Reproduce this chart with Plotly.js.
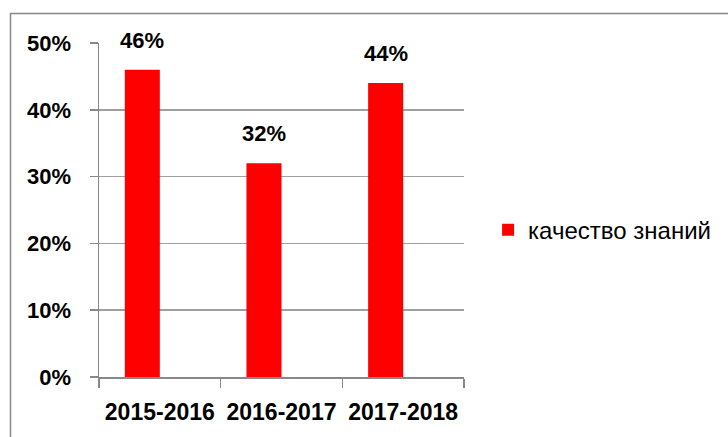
<!DOCTYPE html>
<html>
<head>
<meta charset="utf-8">
<script src="https://cdn.plot.ly/plotly-3.0.1.min.js"></script>
<style>html,body{margin:0;padding:0;background:#fff;}#chart{width:728px;height:437px;}</style>
</head>
<body>
<div id="chart"></div>
<script>
const categories = ["2015-2016", "2016-2017", "2017-2018"];
const values = [0.46, 0.32, 0.44];
const labels = ["46%", "32%", "44%"];
const seriesName = "качество знаний";
const yTicks = [0, 0.1, 0.2, 0.3, 0.4, 0.5];
const yTickText = ["0%", "10%", "20%", "30%", "40%", "50%"];

const barWidth = 0.288;
const trace = {
  type: "bar",
  x: categories,
  y: values,
  name: seriesName,
  width: barWidth,
  offset: -barWidth,
  marker: {color: "#FF0000", line: {width: 0}},
  hoverinfo: "none"
};

const annotations = values.map((v, i) => ({
  x: i - barWidth / 2,
  y: v,
  xref: "x",
  yref: "y",
  text: labels[i],
  showarrow: false,
  yanchor: "bottom",
  yshift: 15,
  font: {family: "Liberation Sans, Arial, sans-serif", size: 22, color: "#000", weight: "bold"}
}));

const layout = {
  width: 728,
  height: 437,
  margin: {l: 99, r: 264, t: 43, b: 60},
  paper_bgcolor: "#fff",
  plot_bgcolor: "#fff",
  showlegend: true,
  legend: {
    x: 1.066, y: 0.44, xanchor: "left", yanchor: "middle",
    font: {family: "Liberation Sans, Arial, sans-serif", size: 24, color: "#000"},
    bgcolor: "rgba(0,0,0,0)"
  },
  xaxis: {
    type: "category",
    tickson: "boundaries",
    ticks: "outside",
    ticklen: 9,
    tickcolor: "#888",
    tickwidth: 1.5,
    showline: true,
    linecolor: "#888",
    linewidth: 1.5,
    showgrid: false,
    zeroline: false,
    ticklabelstandoff: 14,
    tickfont: {family: "Liberation Sans, Arial, sans-serif", size: 23, color: "#000", weight: "bold"},
    fixedrange: true
  },
  yaxis: {
    range: [0, 0.5],
    tickvals: yTicks,
    ticktext: yTickText,
    ticks: "outside",
    ticklen: 8,
    tickcolor: "#888",
    tickwidth: 1.5,
    showline: true,
    linecolor: "#888",
    linewidth: 1.5,
    showgrid: true,
    gridcolor: "#A0A0A0",
    gridwidth: 1.5,
    zeroline: false,
    ticklabelstandoff: 14,
    tickfont: {family: "Liberation Sans, Arial, sans-serif", size: 22, color: "#000", weight: "bold"},
    fixedrange: true
  },
  annotations: annotations,
  shapes: [{
    type: "rect",
    xref: "paper", yref: "paper",
    x0: (10.5 - 99) / 365, x1: (735 - 99) / 365,
    y0: (377 - 445) / 334, y1: (377 - 13.5) / 334,
    line: {color: "#888", width: 1.5},
    fillcolor: "rgba(0,0,0,0)",
    layer: "below"
  }]
};

Plotly.newPlot("chart", [trace], layout, {displayModeBar: false, staticPlot: true});
</script>
</body>
</html>
